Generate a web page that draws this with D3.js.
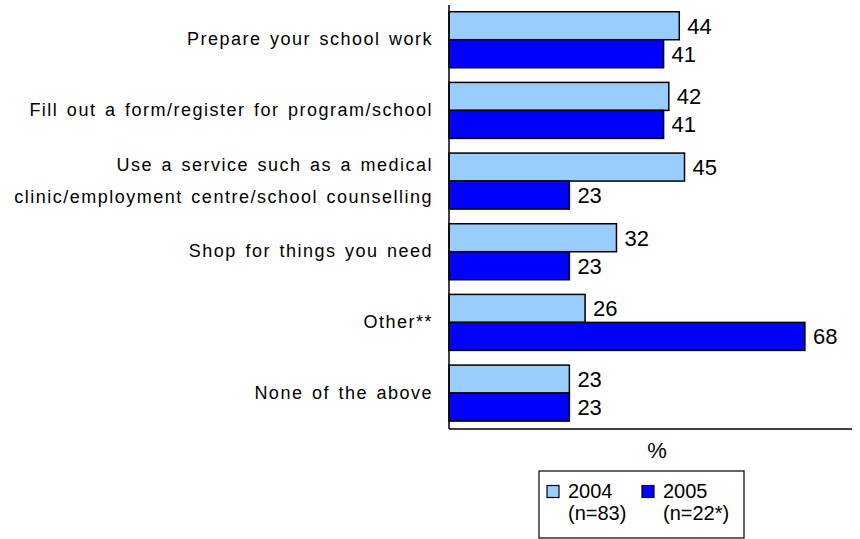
<!DOCTYPE html>
<html>
<head>
<meta charset="utf-8">
<script src="https://cdn.jsdelivr.net/npm/d3@7"></script>
<style>
  html, body { margin: 0; padding: 0; background: #fff; }
  svg { display: block; font-family: "Liberation Sans", Arial, sans-serif; }
</style>
</head>
<body>
<svg id="chart" width="860" height="539"></svg>
<script>
// Activities, one group of bars per activity
const categories = [
  ["Prepare your school work"],
  ["Fill out a form/register for program/school"],
  ["Use a service such as a medical", "clinic/employment centre/school counselling"],
  ["Shop for things you need"],
  ["Other**"],
  ["None of the above"]
];
const seriesNames = ["2004", "2005"];
const sampleSizes = ["(n=83)", "(n=22*)"];
const values2004 = [44, 42, 45, 32, 26, 23];
const values2005 = [41, 41, 23, 23, 68, 23];
const colors = ["#99CCFF", "#0000FF"];

const svg = d3.select("#chart");

const plot = { left: 449, right: 852, top: 5, bottom: 429 };

const x = d3.scaleLinear().domain([0, 77]).range([plot.left, plot.right]);
const y = d3.scaleBand()
  .domain(d3.range(categories.length))
  .range([4.4, 428.4])
  .paddingInner(0.2075)
  .paddingOuter(0.1037);
const ySub = d3.scaleBand().domain(d3.range(seriesNames.length)).range([0, y.bandwidth()]);

const series = [values2004, values2005];

// bars with their value labels
series.forEach((vals, s) => {
  svg.append("g").selectAll("rect")
    .data(vals)
    .join("rect")
    .attr("x", x(0))
    .attr("y", (d, i) => y(i) + ySub(s))
    .attr("width", d => x(d) - x(0))
    .attr("height", ySub.bandwidth())
    .attr("fill", colors[s])
    .attr("stroke", "#000")
    .attr("stroke-width", 1.5);

  svg.append("g").selectAll("text")
    .data(vals)
    .join("text")
    .attr("x", d => x(d) + 8)
    .attr("y", (d, i) => y(i) + ySub(s) + ySub.bandwidth() / 2)
    .attr("dy", "0.36em")
    .attr("font-size", 22)
    .attr("fill", "#000")
    .text(d => d);
});

// axis lines
svg.append("line")
  .attr("x1", plot.left).attr("x2", plot.left)
  .attr("y1", plot.top).attr("y2", plot.bottom)
  .attr("stroke", "#000").attr("stroke-width", 1.5);
svg.append("line")
  .attr("x1", plot.left).attr("x2", plot.right)
  .attr("y1", plot.bottom).attr("y2", plot.bottom)
  .attr("stroke", "#000").attr("stroke-width", 1.5);

// category labels
const catG = svg.append("g");
categories.forEach((lines, i) => {
  const cy = y(i) + y.bandwidth() / 2;
  const lh = 32;
  lines.forEach((line, j) => {
    catG.append("text")
      .attr("x", 433)
      .attr("y", cy + (j - (lines.length - 1) / 2) * lh - 1)
      .attr("dy", "0.36em")
      .attr("text-anchor", "end")
      .attr("font-size", 18)
      .attr("letter-spacing", "1.5px")
      .attr("word-spacing", "2px")
      .attr("fill", "#000")
      .text(line);
  });
});

// axis title
svg.append("text")
  .attr("x", 657).attr("y", 450)
  .attr("dy", "0.36em")
  .attr("text-anchor", "middle")
  .attr("font-size", 22)
  .text("%");

// legend
const lg = svg.append("g");
lg.append("rect")
  .attr("x", 539).attr("y", 471).attr("width", 205).attr("height", 67)
  .attr("fill", "#fff").attr("stroke", "#000").attr("stroke-width", 1.2);
const legX = [547, 642];
const legTextX = [568, 663];
seriesNames.forEach((name, s) => {
  lg.append("rect")
    .attr("x", legX[s]).attr("y", 485.5).attr("width", 12).attr("height", 12)
    .attr("fill", colors[s]).attr("stroke", "#000").attr("stroke-width", 1.2);
  lg.append("text")
    .attr("x", legTextX[s]).attr("y", 491).attr("dy", "0.36em")
    .attr("font-size", 20).text(name);
  lg.append("text")
    .attr("x", legTextX[s]).attr("y", 513).attr("dy", "0.36em")
    .attr("font-size", 20).text(sampleSizes[s]);
});
</script>
</body>
</html>
